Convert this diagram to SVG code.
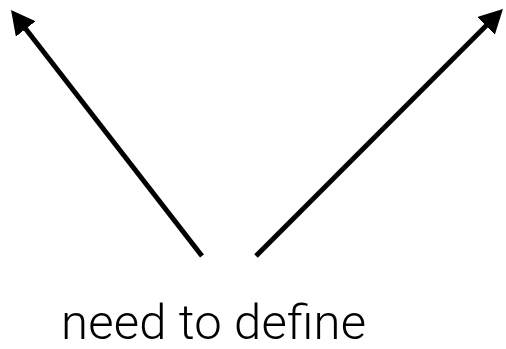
<svg xmlns="http://www.w3.org/2000/svg" width="506" height="349" viewBox="0 0 506 349">
  <style>
    .conn { stroke: #000; stroke-width: 5; fill: none; marker-end: url(#head); }
    .label { font-family: Roboto, "Liberation Sans", Arial, sans-serif; font-weight: 300; font-size: 49px; fill: #000; }
  </style>
  <defs>
    <marker id="head" markerUnits="userSpaceOnUse" markerWidth="26" markerHeight="26" refX="4" refY="12.5" orient="auto" viewBox="0 0 26 26">
      <path d="M0,0 L24,12.5 L0,25 z" fill="#000"/>
    </marker>
  </defs>
  <rect width="506" height="349" fill="#fff"/>
  <g id="connectors">
    <line class="conn" x1="202" y1="256" x2="23.3" y2="25.8"/>
    <line class="conn" x1="256" y1="256" x2="488.8" y2="23.1"/>
  </g>
  <g id="label">
    <text class="label" x="61" y="339" textLength="305" lengthAdjust="spacing">need to define</text>
  </g>
</svg>
